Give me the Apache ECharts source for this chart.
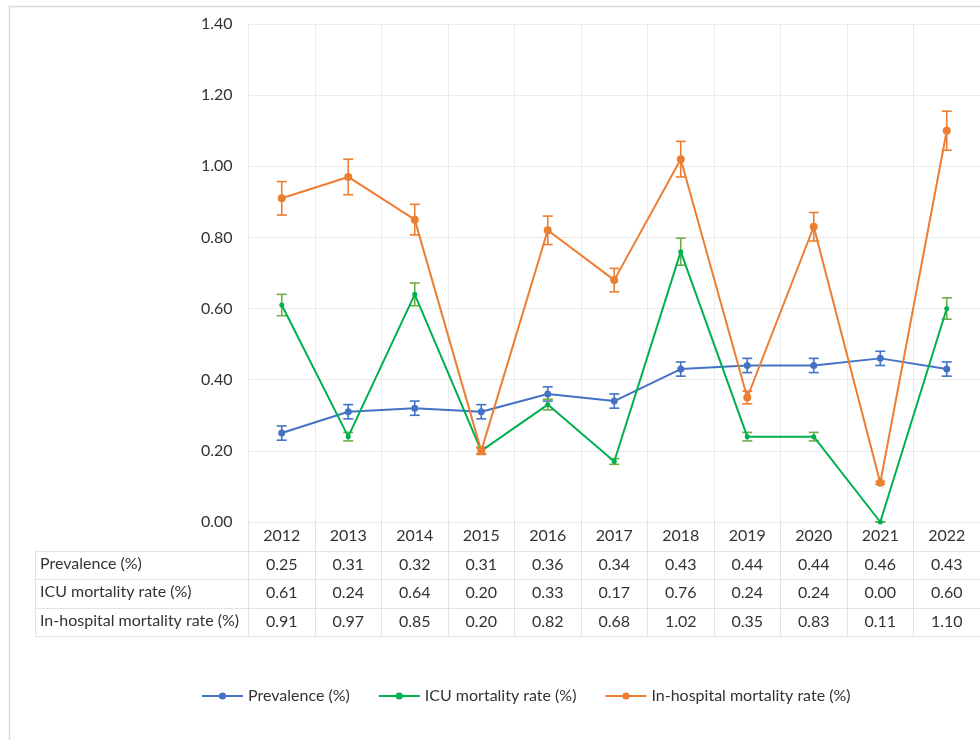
<!DOCTYPE html>
<html><head><meta charset="utf-8">
<script src="https://cdn.jsdelivr.net/npm/echarts@6/dist/echarts.min.js"></script>
<style>html,body{margin:0;padding:0;background:#fff}#c{width:980px;height:740px}</style>
</head><body><div id="c"></div>
<script>
const years = ['2012','2013','2014','2015','2016','2017','2018','2019','2020','2021','2022'];
const prevalence = [0.25,0.31,0.32,0.31,0.36,0.34,0.43,0.44,0.44,0.46,0.43];
const icuMortality = [0.61,0.24,0.64,0.20,0.33,0.17,0.76,0.24,0.24,0.00,0.60];
const hospMortality = [0.91,0.97,0.85,0.20,0.82,0.68,1.02,0.35,0.83,0.11,1.10];
const prevalenceErr = [0.02,0.02,0.02,0.02,0.02,0.02,0.02,0.02,0.02,0.02,0.02];
const icuErr = [0.03,0.012,0.032,0.008,0.015,0.008,0.038,0.012,0.012,0.0,0.03];
const hospErr = [0.047,0.05,0.043,0.01,0.04,0.033,0.05,0.018,0.04,0.004,0.055];
const yTicks = [0,0.2,0.4,0.6,0.8,1.0,1.2,1.4];
const seriesNames = ['Prevalence (%)','ICU mortality rate (%)','In-hospital mortality rate (%)'];

const FONT = 'Lato';
const TXT = '#333333';
const GRIDC = '#ebebeb';
const TBL = '#e3e3e3';
const GL = 248.5, GT = 24, GW = 737, GH = 498;
const ROWH = 28.5;
const colors = ['#4472C4','#00B050','#ED7D31'];
const errColors = ['#4472C4','#70AD47','#ED7D31'];

function errData(vals, errs){ return vals.map((v,i)=>[i, v-errs[i], v+errs[i]]); }
function errSeries(name, vals, errs, color){
  return {
    type:'custom', name: name+' err', xAxisIndex:0, yAxisIndex:0, z:3,
    data: errData(vals, errs),
    renderItem: function(params, api){
      const x = api.value(0);
      const lo = api.coord([x, api.value(1)]);
      const hi = api.coord([x, api.value(2)]);
      const hw = 5;
      const st = {stroke: color, lineWidth: 1.6};
      return {type:'group', children:[
        {type:'line', shape:{x1:lo[0],y1:lo[1],x2:hi[0],y2:hi[1]}, style:st},
        {type:'line', shape:{x1:lo[0]-hw,y1:lo[1],x2:lo[0]+hw,y2:lo[1]}, style:st},
        {type:'line', shape:{x1:hi[0]-hw,y1:hi[1],x2:hi[0]+hw,y2:hi[1]}, style:st}
      ]};
    }
  };
}
const fmt = a => a.map(v=>v.toFixed(2));
const rowAxis = (data, k) => ({
  type:'category', data: data, position:'bottom', offset: ROWH*k, gridIndex:0,
  axisLine:{show:false}, axisTick:{show:false}, splitLine:{show:false},
  axisLabel:{fontFamily:FONT, fontSize:16, color:TXT, margin:6, interval:0}
});

const chart = echarts.init(document.getElementById('c'), null, {renderer:'canvas'});
const rowLabelY = [GT+GH+ROWH*1.5, GT+GH+ROWH*2.5, GT+GH+ROWH*3.5];
const graphics = [
  {type:'rect', shape:{x:9.5,y:6.5,width:1100,height:900}, style:{fill:'none', stroke:'#d9d9d9', lineWidth:1.5}, silent:true, z:-1}
];
[1,2,3,4].forEach(k=>{
  const y = Math.round(GT+GH+ROWH*k)+0.5;
  graphics.push({type:'line', shape:{x1:35,y1:y,x2:GL+GW,y2:y}, style:{stroke:TBL,lineWidth:1}, silent:true});
});
graphics.push({type:'line', shape:{x1:35.5,y1:GT+GH+ROWH,x2:35.5,y2:GT+GH+ROWH*4}, style:{stroke:TBL,lineWidth:1}, silent:true});
seriesNames.forEach((n,i)=>{
  graphics.push({type:'text', left:40, top:rowLabelY[i]-9, style:{text:n, font:'16px '+FONT, fill:TXT}});
});

chart.setOption({
  animation:false,
  textStyle:{fontFamily:FONT},
  grid:{left:GL, top:GT, width:GW, height:GH, containLabel:false},
  xAxis:[
    {type:'category', data:years, boundaryGap:true, position:'bottom',
     axisLine:{show:true, lineStyle:{color:GRIDC}},
     axisTick:{show:true, alignWithLabel:false, length:ROWH*4, lineStyle:{color:TBL}},
     splitLine:{show:true, lineStyle:{color:GRIDC}},
     axisLabel:{fontFamily:FONT, fontSize:16, color:TXT, margin:6, interval:0}},
    rowAxis(fmt(prevalence),1),
    rowAxis(fmt(icuMortality),2),
    rowAxis(fmt(hospMortality),3)
  ],
  yAxis:{type:'value', min:0, max:1.4, interval:0.2,
    axisLine:{show:false}, axisTick:{show:false},
    splitLine:{lineStyle:{color:GRIDC}},
    axisLabel:{fontFamily:FONT, fontSize:16, color:TXT, margin:16, formatter:v=>v.toFixed(2)}},
  legend:{data:seriesNames, left:196, top:683, itemWidth:41, itemHeight:9, itemGap:28,
    textStyle:{fontFamily:FONT, fontSize:16, color:TXT}},
  graphic: graphics,
  series:[
    {name:seriesNames[0], type:'line', data:prevalence, color:colors[0], symbol:'circle', symbolSize:7, lineStyle:{width:2}, z:4},
    {name:seriesNames[1], type:'line', data:icuMortality, color:colors[1], symbol:'circle', symbolSize:5, lineStyle:{width:2}, z:4},
    {name:seriesNames[2], type:'line', data:hospMortality, color:colors[2], symbol:'circle', symbolSize:8, lineStyle:{width:2}, z:4},
    errSeries(seriesNames[0], prevalence, prevalenceErr, errColors[0]),
    errSeries(seriesNames[1], icuMortality, icuErr, errColors[1]),
    errSeries(seriesNames[2], hospMortality, hospErr, errColors[2])
  ]
});
</script></body></html>
